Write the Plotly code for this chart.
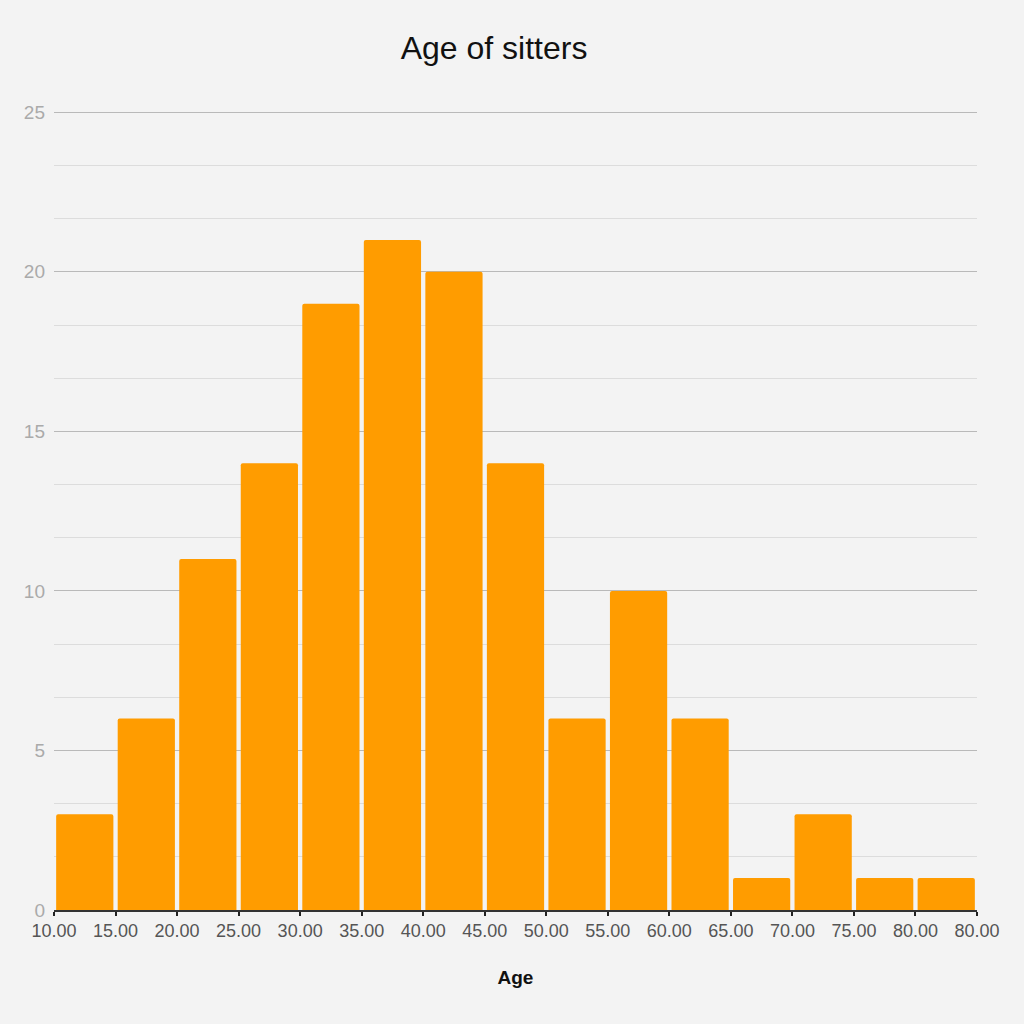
import plotly.graph_objects as go

# Data
counts = [3, 6, 11, 14, 19, 21, 20, 14, 6, 10, 6, 1, 3, 1, 1]
edge_labels = ["10.00", "15.00", "20.00", "25.00", "30.00", "35.00", "40.00", "45.00",
               "50.00", "55.00", "60.00", "65.00", "70.00", "75.00", "80.00", "80.00"]
x_min, x_max = 10.0, 80.0

n = len(counts)
step = (x_max - x_min) / n
edges = [x_min + i * step for i in range(n + 1)]
centers = [x_min + (i + 0.5) * step for i in range(n)]

fig = go.Figure()
fig.add_trace(go.Bar(
    x=centers, y=counts, width=step * 0.93,
    marker=dict(color="#ff9c00", line=dict(width=0)),
    hoverinfo="skip",
))

fig.update_layout(
    width=1024, height=1024,
    paper_bgcolor="#f3f3f3", plot_bgcolor="#f3f3f3",
    margin=dict(l=54, r=47, t=111, b=114),
    barcornerradius=2,
    showlegend=False,
    title=dict(text="Age of sitters", x=0.4825, xanchor="center", y=0.953, yanchor="middle",
               font=dict(family="Liberation Sans, Arial", size=32, color="#111111")),
    font=dict(family="Liberation Sans, Arial"),
)
fig.update_xaxes(
    range=[x_min, x_max], tickmode="array", tickvals=edges, ticktext=edge_labels,
    showgrid=False, zeroline=False,
    showline=True, linecolor="#333333", linewidth=1.5,
    ticks="outside", ticklen=4, tickcolor="#222222", tickwidth=1.5,
    tickfont=dict(size=18, color="#555555"),
    title=dict(text="<b>Age</b>", font=dict(size=19, color="#111111"), standoff=30),
)
fig.update_yaxes(
    range=[0, 25.04], tickmode="array", tickvals=[0, 5, 10, 15, 20, 25],
    showgrid=True, gridcolor="#b9b9b9", gridwidth=1.3,
    zeroline=False, showline=False,
    minor=dict(dtick=5/3, tick0=0, showgrid=True, gridcolor="#dcdcdc", gridwidth=1),
    tickfont=dict(size=19, color="#aaaaaa"), ticks="", ticklabelstandoff=8,
)

fig.write_html(
    "out.html",
    config={"displayModeBar": False},
    post_script="document.body.style.margin='0';document.body.style.background='#f3f3f3';",
)
